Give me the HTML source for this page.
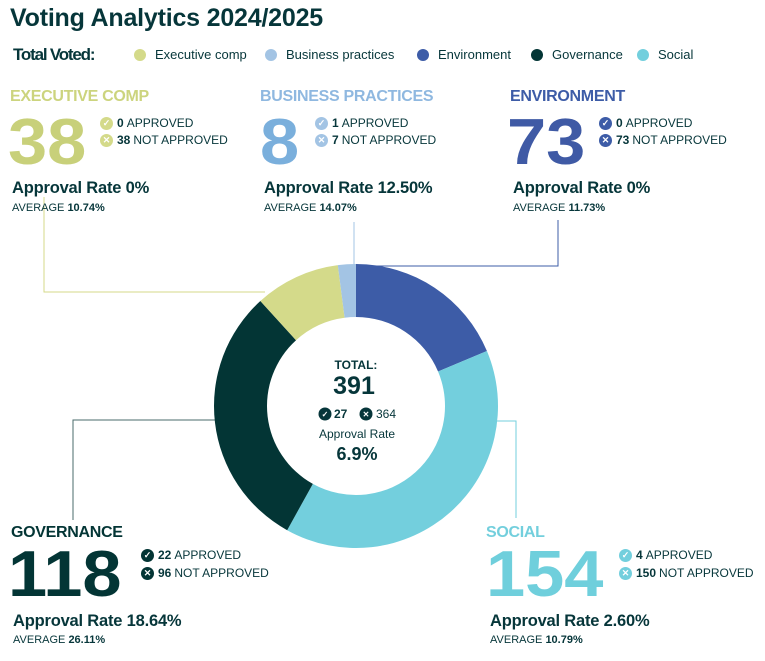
<!DOCTYPE html>
<html><head><meta charset="utf-8"><style>
body{margin:0;width:765px;height:661px;background:#fff;font-family:"Liberation Sans",sans-serif;color:#06363a;position:relative;overflow:hidden}
.a{position:absolute;white-space:nowrap}
.t{font-size:16px;font-weight:bold;letter-spacing:-0.3px}
.big{font-size:64px;font-weight:bold;line-height:1;letter-spacing:0;transform:scale(1.1,1.02);transform-origin:left top}
.st{font-size:12px;line-height:17px;display:flex;align-items:center}
.st b{margin-right:3px}
.ic{display:inline-block;width:13px;height:13px;border-radius:50%;color:#fff;font-size:9px;line-height:13px;text-align:center;margin-right:4px;font-weight:bold}
.ar{font-size:16.5px;font-weight:bold;letter-spacing:-0.2px}
.av{font-size:11px}
.lg{font-size:13px;display:flex;align-items:center}
.dot{display:inline-block;width:12px;height:12px;border-radius:50%;margin-right:9px}
</style></head><body>
<div class="a" style="left:10px;top:4px;font-size:25px;font-weight:bold;letter-spacing:-0.2px">Voting Analytics 2024/2025</div>
<div class="a" style="left:13px;top:45px;font-size:17px;font-weight:bold;letter-spacing:-1.2px">Total Voted:</div>
<div class="a lg" style="left:134px;top:47px"><span class="dot" style="background:#d4da8a"></span>Executive comp</div>
<div class="a lg" style="left:265px;top:47px"><span class="dot" style="background:#a3c4e4"></span>Business practices</div>
<div class="a lg" style="left:417px;top:47px"><span class="dot" style="background:#3d5ca7"></span>Environment</div>
<div class="a lg" style="left:531px;top:47px"><span class="dot" style="background:#033535"></span>Governance</div>
<div class="a lg" style="left:637px;top:47px"><span class="dot" style="background:#73cfdd"></span>Social</div>

<svg class="a" style="left:0;top:0" width="765" height="661">
<g id="leaders" fill="none" stroke-width="1">
<polyline points="44,197 44,292 265,292" stroke="#d4da8a"/>
<polyline points="354,222 354,265" stroke="#a3c4e4"/>
<polyline points="558,220 558,266 356,266" stroke="#3d5ca7"/>
<polyline points="73,520 73,420 215,420" stroke="#4a6b6b"/>
<polyline points="496,421 516,421 516,518" stroke="#73cfdd"/>
</g>
<g id="slices"></g>
<text x="356" y="369" text-anchor="middle" font-size="12" font-weight="bold" fill="#06363a">TOTAL:</text>
<text x="354" y="394" text-anchor="middle" font-size="25" font-weight="bold" fill="#06363a">391</text>
<circle cx="325" cy="414" r="6.5" fill="#06363a"/><text x="325" y="417" text-anchor="middle" font-size="8" fill="#fff" font-weight="bold">✓</text>
<text x="334" y="418" font-size="12" font-weight="bold" fill="#06363a">27</text>
<circle cx="366" cy="414" r="6.5" fill="#06363a"/><text x="366" y="417" text-anchor="middle" font-size="8" fill="#fff" font-weight="bold">✕</text>
<text x="376" y="418" font-size="12" fill="#06363a">364</text>
<text x="357" y="438" text-anchor="middle" font-size="12" fill="#06363a">Approval Rate</text>
<text x="357" y="460" text-anchor="middle" font-size="18" font-weight="bold" fill="#06363a">6.9%</text>
</svg>

<!-- Executive -->
<div class="a t" style="left:10px;top:88px;color:#ccd47e">EXECUTIVE COMP</div>
<div class="a big" style="left:8px;top:109px;color:#c8d07a">38</div>
<div class="a st" style="left:100px;top:115px"><span class="ic" style="background:#d4da8a">✓</span><b>0</b>APPROVED</div>
<div class="a st" style="left:100px;top:132px"><span class="ic" style="background:#d4da8a">✕</span><b>38</b>NOT APPROVED</div>
<div class="a ar" style="left:12px;top:179px">Approval Rate 0%</div>
<div class="a av" style="left:12px;top:202px">AVERAGE <b>10.74%</b></div>
<!-- Business -->
<div class="a t" style="left:260px;top:88px;color:#8fb8e0">BUSINESS PRACTICES</div>
<div class="a big" style="left:260px;top:109px;color:#7aafdc">8</div>
<div class="a st" style="left:315px;top:115px"><span class="ic" style="background:#a3c4e4">✓</span><b>1</b>APPROVED</div>
<div class="a st" style="left:315px;top:132px"><span class="ic" style="background:#a3c4e4">✕</span><b>7</b>NOT APPROVED</div>
<div class="a ar" style="left:264px;top:179px">Approval Rate 12.50%</div>
<div class="a av" style="left:264px;top:202px">AVERAGE <b>14.07%</b></div>
<!-- Environment -->
<div class="a t" style="left:510px;top:88px;color:#3d5ca7">ENVIRONMENT</div>
<div class="a big" style="left:507px;top:109px;color:#3f5aa5">73</div>
<div class="a st" style="left:599px;top:115px"><span class="ic" style="background:#3d5ca7">✓</span><b>0</b>APPROVED</div>
<div class="a st" style="left:599px;top:132px"><span class="ic" style="background:#3d5ca7">✕</span><b>73</b>NOT APPROVED</div>
<div class="a ar" style="left:513px;top:179px">Approval Rate 0%</div>
<div class="a av" style="left:513px;top:202px">AVERAGE <b>11.73%</b></div>
<!-- Governance -->
<div class="a t" style="left:11px;top:524px;color:#033535">GOVERNANCE</div>
<div class="a big" style="left:8px;top:541px;color:#033535">118</div>
<div class="a st" style="left:141px;top:547px"><span class="ic" style="background:#033535">✓</span><b>22</b>APPROVED</div>
<div class="a st" style="left:141px;top:565px"><span class="ic" style="background:#033535">✕</span><b>96</b>NOT APPROVED</div>
<div class="a ar" style="left:13px;top:612px">Approval Rate 18.64%</div>
<div class="a av" style="left:13px;top:634px">AVERAGE <b>26.11%</b></div>
<!-- Social -->
<div class="a t" style="left:486px;top:524px;color:#73cfdd">SOCIAL</div>
<div class="a big" style="left:486px;top:541px;color:#6fcfdc">154</div>
<div class="a st" style="left:619px;top:547px"><span class="ic" style="background:#73cfdd">✓</span><b>4</b>APPROVED</div>
<div class="a st" style="left:619px;top:565px"><span class="ic" style="background:#73cfdd">✕</span><b>150</b>NOT APPROVED</div>
<div class="a ar" style="left:490px;top:612px">Approval Rate 2.60%</div>
<div class="a av" style="left:490px;top:634px">AVERAGE <b>10.79%</b></div>

<script>
const categories = ["Environment","Social","Governance","Executive comp","Business practices"];
const values = [73, 154, 118, 38, 8];
const colors = ["#3d5ca7","#73cfdd","#033535","#d4da8a","#a3c4e4"];
const cx = 356, cy = 406, R = 142, r = 89;
const g = document.getElementById('slices');
const total = values.reduce((a,b)=>a+b,0);
function pt(rad, a){ return [cx + rad*Math.sin(a), cy - rad*Math.cos(a)]; }
let acc = 0;
values.forEach((v,i)=>{
  const a0 = acc/total*2*Math.PI; acc += v; const a1 = acc/total*2*Math.PI;
  const large = (a1-a0) > Math.PI ? 1 : 0;
  const [x0,y0]=pt(R,a0),[x1,y1]=pt(R,a1),[x2,y2]=pt(r,a1),[x3,y3]=pt(r,a0);
  const p = document.createElementNS('http://www.w3.org/2000/svg','path');
  p.setAttribute('d',`M${x0},${y0}A${R},${R} 0 ${large} 1 ${x1},${y1}L${x2},${y2}A${r},${r} 0 ${large} 0 ${x3},${y3}Z`);
  p.setAttribute('fill',colors[i]);
  
  
  g.appendChild(p);
});
</script>
</body></html>
